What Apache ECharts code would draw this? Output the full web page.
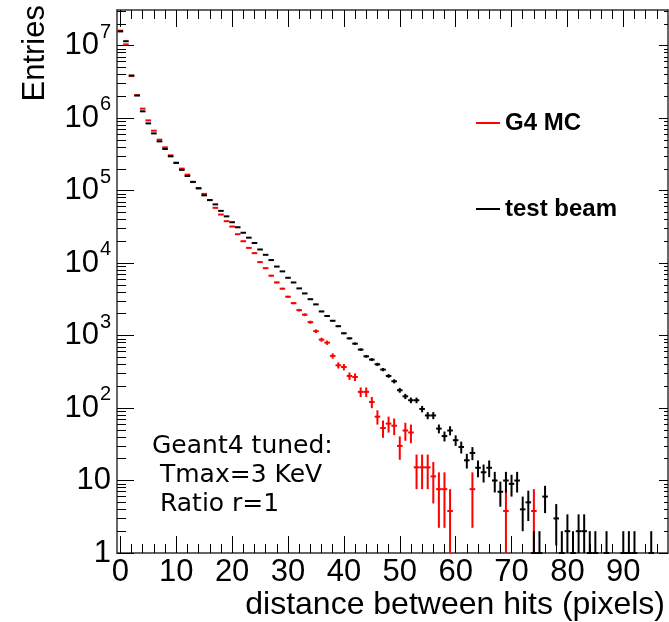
<!DOCTYPE html>
<html><head><meta charset="utf-8">
<script src="https://cdn.jsdelivr.net/npm/echarts@6/dist/echarts.min.js"></script>
<style>html,body{margin:0;padding:0;background:#fff}#c{width:669px;height:622px}</style>
</head><body><div id="c"></div>
<script>
// bin centres (distance between hits, pixels)
const bins = [0,1,2,3,4,5,6,7,8,9,10,11,12,13,14,15,16,17,18,19,20,21,22,23,24,25,26,27,28,29,
  30,31,32,33,34,35,36,37,38,39,40,41,42,43,44,45,46,47,48,49,50,51,52,53,54,55,56,57,58,59,
  60,61,62,63,64,65,66,67,68,69,70,71,72,73,74,75,76,77,78,79,80,81,82,83,84,85,86,87,88,89,
  90,91,92,93,94,95,96,97];

// test beam entries per bin
const testBeam = [1.57e7, 1.15e7, 3.87e6, 2.05e6, 1.24e6, 8.45e5, 6.15e5, 4.77e5, 3.75e5, 2.97e5,
  2.41e5, 1.93e5, 1.59e5, 1.32e5, 1.08e5, 8.6e4, 7.4e4, 6.45e4, 5.25e4, 4.41e4,
  3.66e4, 3.12e4, 2.62e4, 2.24e4, 1.89e4, 1.54e4, 1.30e4, 1.10e4, 8950, 7680,
  6270, 5400, 4470, 3810, 3170, 2690, 2150, 1860, 1600, 1345,
  1075, 915, 773, 640, 517, 466, 401, 339, 277, 234,
  176, 145, 128, 128, 97, 79, 79, 52, 41, 49,
  36, 29, 19, 24, 15, 13, 15, 10, 7, 10,
  9, 10, 4, 5, 1, 1, 6, 0, 3, 1,
  2, 1, 2, 2, 1, 1, 0, 1, 0, 0,
  1, 1, 1, 0, 0, 1, 0, 0];

// G4 MC entries per bin (weighted)
const g4mc = [1.61e7, 1.04e7, 3.8e6, 2.07e6, 1.35e6, 9.3e5, 6.7e5, 5.04e5, 3.95e5, 3.06e5,
  2.42e5, 2.01e5, 1.66e5, 1.31e5, 1.07e5, 9.0e4, 7.4e4, 5.78e4, 4.67e4, 3.78e4,
  3.19e4, 2.50e4, 2.0e4, 1.62e4, 1.37e4, 1.03e4, 8500, 6700, 5400, 4430,
  3430, 2800, 2240, 1940, 1530, 1150, 877, 798, 524, 389,
  368, 277, 268, 167, 167, 121, 76, 53, 61, 57,
  30, 49, 46, 15.2, 15.2, 15.2, 11.4, 7.6, 7.6, 3.8,
  0, 0, 0, 7.6, 0, 0, 0, 0, 0, 3.8,
  0, 0, 0, 0, 3.8, 0, 0, 0, 0, 0,
  0, 0, 0, 0, 0, 0, 0, 0, 0, 0,
  0, 0, 0, 0, 0, 0, 0, 0];
const mcWeight = 3.8; // per-event weight of the MC sample (sets its error bars)

const xMajorTicks = [0, 10, 20, 30, 40, 50, 60, 70, 80, 90];
const xMinorTicks = [0,2,4,6,8,10,12,14,16,18,20,22,24,26,28,30,32,34,36,38,40,42,44,46,48,
  50,52,54,56,58,60,62,64,66,68,70,72,74,76,78,80,82,84,86,88,90,92,94,96];
const yMajorTicks = [1, 10, 100, 1000, 1e4, 1e5, 1e6, 1e7];
const yMinorTicks = [2,3,4,5,6,7,8,9, 20,30,40,50,60,70,80,90, 200,300,400,500,600,700,800,900,
  2e3,3e3,4e3,5e3,6e3,7e3,8e3,9e3, 2e4,3e4,4e4,5e4,6e4,7e4,8e4,9e4,
  2e5,3e5,4e5,5e5,6e5,7e5,8e5,9e5, 2e6,3e6,4e6,5e6,6e6,7e6,8e6,9e6, 2e7,3e7];

const FONT = 'Liberation Sans';

function histData(vals, weight) {
  const out = [];
  bins.forEach((b, i) => { if (vals[i] > 0) out.push([b, vals[i], Math.sqrt(vals[i] * weight)]); });
  return out;
}

function renderHist(params, api) {
  const x = api.value(0), v = api.value(1), e = api.value(2);
  const cs = params.coordSys;
  const yb = cs.y + cs.height, yt = cs.y;
  const cl = y => Math.max(yt, Math.min(yb, y));
  const p = api.coord([x, v]);
  const l = api.coord([x - 0.5, v]), r = api.coord([x + 0.5, v]);
  const hi = api.coord([x, v + e]);
  const lo = (v - e) > 0 ? api.coord([x, v - e]) : [p[0], yb];
  const style = { stroke: api.visual('color'), lineWidth: 2 };
  return { type: 'group', children: [
    { type: 'line', shape: { x1: l[0], y1: cl(p[1]), x2: r[0], y2: cl(p[1]) }, style },
    { type: 'line', shape: { x1: p[0], y1: cl(hi[1]), x2: p[0], y2: cl(lo[1]) }, style }
  ]};
}

const frameLine = { show: true, onZero: false, lineStyle: { color: '#333', width: 1.5 } };
const noLine = { show: false, onZero: false };
const tickStyle = { color: '#000', width: 1 };
const xCommon = { type: 'value', min: -0.6, max: 98, splitLine: { show: false }, gridIndex: 0 };
const yCommon = { type: 'log', logBase: 10, min: 1, max: 3.1e7, splitLine: { show: false }, gridIndex: 0 };

const chart = echarts.init(document.getElementById('c'), null, { renderer: 'canvas' });
chart.setOption({
  animation: false,
  backgroundColor: '#fff',
  grid: { left: 117, right: 1, top: 10, bottom: 69, containLabel: false, outerBoundsMode: 'none' },
  legend: {
    orient: 'vertical', left: 471, top: 104, itemWidth: 24, itemHeight: 2, itemGap: 58, icon: 'rect',
    textStyle: { fontFamily: FONT, fontWeight: 'bold', fontSize: 24, color: '#000', lineHeight: 28 },
    data: ['G4 MC', 'test beam']
  },
  xAxis: [
    { ...xCommon, position: 'bottom', axisLine: frameLine,
      axisTick: { show: true, inside: true, length: 17, customValues: xMajorTicks, lineStyle: tickStyle },
      axisLabel: { show: true, customValues: xMajorTicks, fontFamily: FONT, fontSize: 31, color: '#000', margin: 4 },
      name: 'distance between hits (pixels)', nameLocation: 'end', nameGap: -3, nameMoveOverlap: false,
      nameTextStyle: { fontFamily: FONT, fontSize: 32, color: '#000', align: 'right', verticalAlign: 'top', padding: [36, 0, 0, 0] } },
    { ...xCommon, position: 'bottom', axisLine: noLine,
      axisTick: { show: true, inside: true, length: 9, customValues: xMinorTicks, lineStyle: tickStyle },
      axisLabel: { show: false } },
    { ...xCommon, position: 'top', axisLine: frameLine,
      axisTick: { show: true, inside: true, length: 17, customValues: xMajorTicks, lineStyle: tickStyle },
      axisLabel: { show: false } },
    { ...xCommon, position: 'top', axisLine: noLine,
      axisTick: { show: true, inside: true, length: 9, customValues: xMinorTicks, lineStyle: tickStyle },
      axisLabel: { show: false } }
  ],
  yAxis: [
    { ...yCommon, position: 'left', axisLine: frameLine,
      axisTick: { show: true, inside: true, length: 17, customValues: yMajorTicks, lineStyle: tickStyle },
      axisLabel: { show: true, customValues: yMajorTicks, margin: 6,
        formatter: v => { const e = Math.round(Math.log10(v)); return e === 0 ? '{b|1}' : (e === 1 ? '{b|10}' : '{b|10}{s|' + e + '}'); },
        rich: {
          b: { fontFamily: FONT, fontSize: 31, color: '#000', padding: [8, 0, 8, 0] },
          s: { fontFamily: FONT, fontSize: 20, color: '#000', verticalAlign: 'top', padding: [0, 0, 0, 1] }
        } },
      name: 'Entries', nameLocation: 'end', nameRotate: 90, nameGap: 5, nameMoveOverlap: false,
      nameTextStyle: { fontFamily: FONT, fontSize: 31, color: '#000', align: 'right', verticalAlign: 'bottom', padding: [0, 0, 66, 0] } },
    { ...yCommon, position: 'left', axisLine: noLine,
      axisTick: { show: true, inside: true, length: 9, customValues: yMinorTicks, lineStyle: tickStyle },
      axisLabel: { show: false } },
    { ...yCommon, position: 'right', axisLine: frameLine,
      axisTick: { show: true, inside: true, length: 9, customValues: yMajorTicks, lineStyle: tickStyle },
      axisLabel: { show: false } },
    { ...yCommon, position: 'right', axisLine: noLine,
      axisTick: { show: true, inside: true, length: 4, customValues: yMinorTicks, lineStyle: tickStyle },
      axisLabel: { show: false } }
  ],
  series: [
    { name: 'G4 MC', type: 'custom', xAxisIndex: 0, yAxisIndex: 0, itemStyle: { color: '#ff0000' },
      renderItem: renderHist, encode: { x: 0, y: 1 }, data: histData(g4mc, mcWeight), z: 2 },
    { name: 'test beam', type: 'custom', xAxisIndex: 0, yAxisIndex: 0, itemStyle: { color: '#000000' },
      renderItem: renderHist, encode: { x: 0, y: 1 }, data: histData(testBeam, 1), z: 3 }
  ],
  graphic: [
    { type: 'text', left: 152, top: 432, silent: true,
      style: { text: 'Geant4 tuned:\n Tmax=3 KeV\n Ratio r=1', font: '25px "DejaVu Sans"', lineHeight: 29, fill: '#000' } }
  ]
});
</script></body></html>
